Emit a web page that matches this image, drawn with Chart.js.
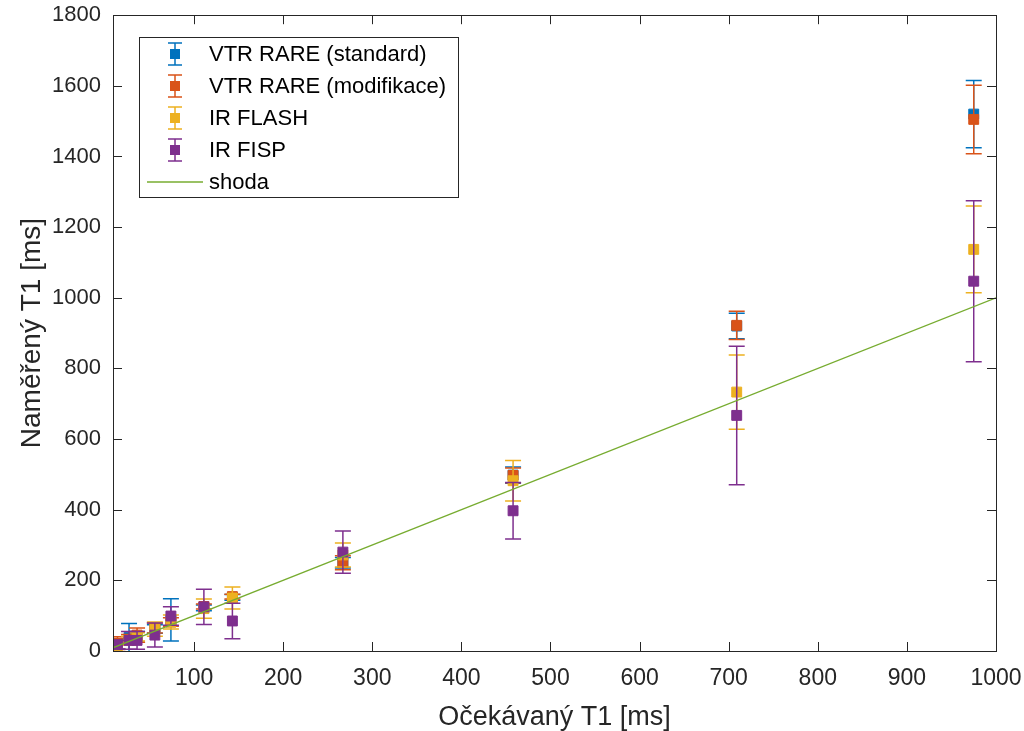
<!DOCTYPE html>
<html>
<head>
<meta charset="utf-8">
<script src="https://cdn.jsdelivr.net/npm/chart.js@4/dist/chart.umd.min.js"></script>
<style>
  html, body { margin: 0; padding: 0; background: #fff; }
  #wrap { width: 1024px; height: 731px; }
</style>
</head>
<body>
<div id="wrap"><canvas id="t1"></canvas></div>
<script>
// expected T1 (x) and measured values per method, with error bars
const expected = [14, 27, 36, 56, 74, 111, 143, 267, 458, 709, 975];

const stdMean = [20, 38, 40, 62, 88, 122, 152, 250, 498, 920, 1520];
const stdErr  = [15, 40, 15, 12, 60, 8, 8, 15, 23, 36, 95];
const modMean = [22, 32, 45, 65, 82, 126, 154, 250, 497, 922, 1505];
const modErr  = [18, 15, 20, 14, 12, 7, 7, 20, 21, 40, 97];
const flashMean = [15, 30, 40, 62, 82, 120, 150, 272, 482, 733, 1137];
const flashErr  = [10, 12, 12, 20, 20, 27, 31, 34, 57, 105, 123];
const fispMean = [18, 30, 30, 45, 99, 125, 85, 280, 397, 667, 1047];
const fispErr  = [12, 25, 25, 34, 26, 50, 50, 60, 80, 196, 228];

const shodaX = [0, 1000];
const shodaY = [0, 1000];

const xTicks = [100, 200, 300, 400, 500, 600, 700, 800, 900, 1000];
const yTicks = [0, 200, 400, 600, 800, 1000, 1200, 1400, 1600, 1800];

const seriesNames = ["VTR RARE (standard)", "VTR RARE (modifikace)", "IR FLASH", "IR FISP"];
const colors = ["#0072BD", "#D95319", "#EDB120", "#7E2F8E"];
const lineColor = "#77AC30";
const axisColor = "#262626";
const FONT = "'Liberation Sans', Arial, Helvetica, sans-serif";

function pts(ys, errs) {
  return expected.map((x, i) => ({x: x, y: ys[i], err: errs[i]}));
}

const means = [stdMean, modMean, flashMean, fispMean];
const errs = [stdErr, modErr, flashErr, fispErr];

const datasets = means.map((m, k) => ({
  label: seriesNames[k],
  data: pts(m, errs[k]),
  backgroundColor: colors[k],
  borderColor: colors[k],
  borderWidth: 1,
  pointStyle: "rect",
  pointRadius: 7,
  showLine: false,
  errorBars: true,
  order: 4 - k
}));

datasets.push({
  label: "shoda",
  data: shodaX.map((x, i) => ({x: x, y: shodaY[i]})),
  borderColor: lineColor,
  borderWidth: 1.3,
  pointRadius: 0,
  showLine: true,
  order: 0
});

// error bars drawn just before each dataset's markers
const errorBarPlugin = {
  id: "errorBars",
  beforeDatasetDraw(chart, args) {
    const ds = chart.data.datasets[args.index];
    if (!ds.errorBars) return;
    const xs = chart.scales.x, ys = chart.scales.y;
    const ctx = chart.ctx;
    const ca = chart.chartArea;
    ctx.save();
    ctx.beginPath();
    ctx.rect(ca.left, ca.top, ca.right - ca.left, ca.bottom - ca.top);
    ctx.clip();
    ctx.strokeStyle = ds.borderColor;
    ctx.lineWidth = 1.5;
    ds.data.forEach(p => {
      const px = xs.getPixelForValue(p.x);
      const top = ys.getPixelForValue(p.y + p.err);
      const bot = ys.getPixelForValue(p.y - p.err);
      ctx.beginPath();
      ctx.moveTo(px, top); ctx.lineTo(px, bot);
      ctx.moveTo(px - 8, top); ctx.lineTo(px + 8, top);
      ctx.moveTo(px - 8, bot); ctx.lineTo(px + 8, bot);
      ctx.stroke();
    });
    ctx.restore();
  }
};

// matlab style box with inward ticks on all sides
const boxPlugin = {
  id: "box",
  afterDraw(chart) {
    const ctx = chart.ctx;
    const {left, right, top, bottom} = chart.chartArea;
    ctx.save();
    ctx.strokeStyle = axisColor;
    ctx.lineWidth = 1;
    ctx.strokeRect(Math.round(left) + 0.5, Math.round(top) + 0.5, Math.round(right - left), Math.round(bottom - top));
    ctx.beginPath();
    const tl = 9;
    chart.scales.x.ticks.forEach(t => {
      const px = Math.round(chart.scales.x.getPixelForValue(t.value)) + 0.5;
      ctx.moveTo(px, bottom); ctx.lineTo(px, bottom - tl);
      ctx.moveTo(px, top); ctx.lineTo(px, top + tl);
    });
    chart.scales.y.ticks.forEach(t => {
      const py = Math.round(chart.scales.y.getPixelForValue(t.value)) + 0.5;
      ctx.moveTo(left, py); ctx.lineTo(left + tl, py);
      ctx.moveTo(right, py); ctx.lineTo(right - tl, py);
    });
    ctx.stroke();
    ctx.restore();
  }
};

// legend box drawn like the matlab one
const legendPlugin = {
  id: "matLegend",
  afterDraw(chart) {
    const ctx = chart.ctx;
    const bx = 139.5, by = 37.5, bw = 319, bh = 160;
    ctx.save();
    ctx.fillStyle = "#fff";
    ctx.fillRect(bx, by, bw, bh);
    ctx.strokeStyle = axisColor;
    ctx.lineWidth = 1;
    ctx.strokeRect(bx, by, bw, bh);
    const rows = [54, 86, 118, 150, 182];
    const ix = 175;
    ctx.font = "22px " + FONT;
    ctx.textBaseline = "middle";
    ctx.textAlign = "left";
    seriesNames.forEach((name, k) => {
      const cy = rows[k];
      ctx.strokeStyle = colors[k];
      ctx.lineWidth = 1.5;
      ctx.beginPath();
      ctx.moveTo(ix, cy - 11); ctx.lineTo(ix, cy + 11);
      ctx.moveTo(ix - 7, cy - 11); ctx.lineTo(ix + 7, cy - 11);
      ctx.moveTo(ix - 7, cy + 11); ctx.lineTo(ix + 7, cy + 11);
      ctx.stroke();
      ctx.fillStyle = colors[k];
      ctx.fillRect(ix - 5, cy - 5, 10, 10);
      ctx.fillStyle = "#000";
      ctx.fillText(name, 209, cy + 1);
    });
    const cy = rows[4];
    ctx.strokeStyle = lineColor;
    ctx.lineWidth = 1.3;
    ctx.beginPath();
    ctx.moveTo(147, cy); ctx.lineTo(203, cy);
    ctx.stroke();
    ctx.fillStyle = "#000";
    ctx.fillText("shoda", 209, cy + 1);
    ctx.restore();
  }
};

new Chart("t1", {
  type: "scatter",
  data: { datasets: datasets },
  options: {
    responsive: true,
    maintainAspectRatio: false,
    animation: false,
    layout: { padding: { top: 7, right: 28, left: 0, bottom: 0 } },
    plugins: {
      legend: { display: false },
      tooltip: { enabled: false }
    },
    scales: {
      x: {
        type: "linear",
        min: 9,
        max: 1000,
        afterBuildTicks(scale) {
          scale.ticks = xTicks.map(v => ({value: v}));
        },
        afterFit(scale) { scale.height = 80; },
        grid: { display: false, drawTicks: true, tickLength: 12 },
        border: { display: false },
        ticks: { color: axisColor, padding: 2, font: { family: FONT, size: 23 }, maxRotation: 0, callback: v => String(v) },
        title: { display: true, text: "Očekávaný T1 [ms]", color: axisColor, padding: { top: 0, bottom: -3 }, font: { family: FONT, size: 27 } }
      },
      y: {
        type: "linear",
        min: 0,
        max: 1800,
        afterBuildTicks(scale) {
          scale.ticks = yTicks.map(v => ({value: v}));
        },
        afterFit(scale) { scale.width = 113; },
        grid: { display: false, drawTicks: true, tickLength: 10 },
        border: { display: false },
        ticks: { color: axisColor, padding: 2, font: { family: FONT, size: 22 }, callback: v => String(v) },
        title: { display: true, text: "Naměřený T1 [ms]", color: axisColor, padding: { top: 15, bottom: 0 }, font: { family: FONT, size: 28 } }
      }
    }
  },
  plugins: [errorBarPlugin, boxPlugin, legendPlugin]
});
</script>
</body>
</html>
